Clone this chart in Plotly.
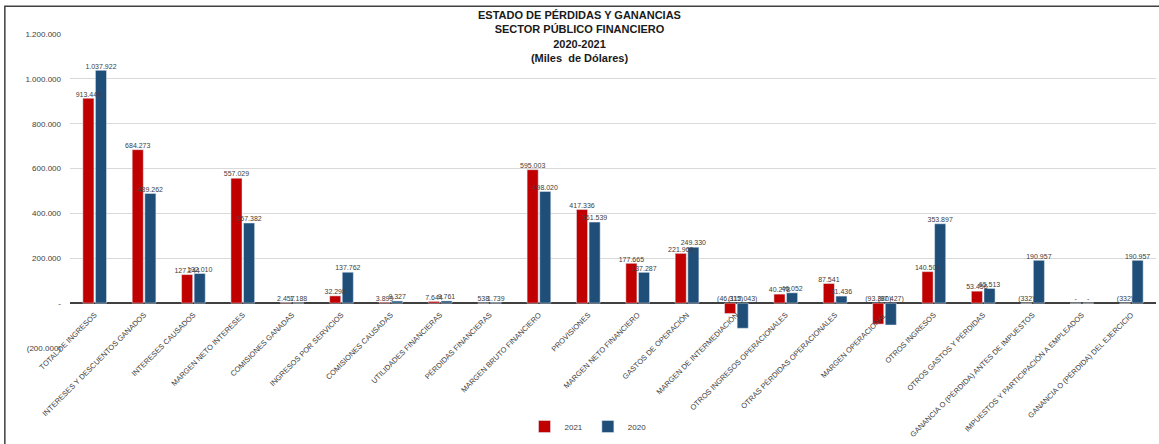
import plotly.graph_objects as go

RED = "#C00000"
BLUE = "#1F4E79"

categorias = [
    "TOTAL DE INGRESOS",
    "INTERESES Y DESCUENTOS GANADOS",
    "INTERESES CAUSADOS",
    "MARGEN NETO INTERESES",
    "COMISIONES GANADAS",
    "INGRESOS POR SERVICIOS",
    "COMISIONES CAUSADAS",
    "UTILIDADES FINANCIERAS",
    "PÉRDIDAS FINANCIERAS",
    "MARGEN BRUTO FINANCIERO",
    "PROVISIONES",
    "MARGEN NETO FINANCIERO",
    "GASTOS DE OPERACIÓN",
    "MARGEN DE INTERMEDIACIÓN",
    "OTROS INGRESOS OPERACIONALES",
    "OTRAS PÉRDIDAS OPERACIONALES",
    "MARGEN OPERACIONAL",
    "OTROS INGRESOS",
    "OTROS GASTOS Y PÉRDIDAS",
    "GANANCIA O (PÉRDIDA) ANTES DE IMPUESTOS",
    "IMPUESTOS Y PARTICIPACIÓN A EMPLEADOS",
    "GANANCIA O (PÉRDIDA) DEL EJERCICIO",
]

valores_2021 = [
    913445, 684273, 127244, 557029, 2457, 32298, 3899, 7644, 538, 595003, 417336,
    177665, 221960, -46315, 40278, 87541, -93380, 140501, 53456, -332, 0, -332,
]
valores_2020 = [
    1037922, 489262, 132010, 357382, 1188, 137762, 9327, 9761, 1739, 498020, 361539,
    137287, 249330, -112043, 46052, 31436, -97427, 353897, 65513, 190957, 0, 190957,
]

y_ticks = [-200000, 0, 200000, 400000, 600000, 800000, 1000000, 1200000]
y_ticktext = ["(200.000)", "-", "200.000", "400.000", "600.000", "800.000", "1.000.000", "1.200.000"]
y_min, y_max = -200000, 1200000


def fmt(v):
    if v == 0:
        return "-"
    s = f"{abs(v):,}".replace(",", ".")
    return f"({s})" if v < 0 else s


fig = go.Figure()
for name, vals, color in [("2021", valores_2021, RED), ("2020", valores_2020, BLUE)]:
    fig.add_trace(go.Bar(x=categorias, y=vals, name=name, marker_color=color))
# etiquetas de datos, siempre por encima de la línea de cero como en el original
for vals in [valores_2021, valores_2020]:
    fig.add_trace(go.Scatter(
        x=categorias, y=[max(v, 0) for v in vals], mode="text",
        text=[fmt(v) for v in vals], textposition="top center",
        textfont=dict(size=7, color="#404040"), showlegend=False,
        hoverinfo="skip", cliponaxis=False,
    ))

fig.update_layout(
    width=1159,
    height=444,
    margin=dict(l=70, r=3, t=34, b=92),
    paper_bgcolor="white",
    plot_bgcolor="white",
    font=dict(family="Liberation Sans, Arial", color="#404040"),
    title=dict(
        text="<b>ESTADO DE PÉRDIDAS Y GANANCIAS<br>SECTOR PÚBLICO FINANCIERO<br>2020-2021<br>(Miles  de Dólares)</b>",
        x=0.5, xanchor="center", y=0.957, yanchor="top",
        font=dict(size=11, color="#1a1a1a"),
    ),
    barmode="group",
    bargap=0.49,
    bargroupgap=0.12,
    scattermode="group",
    scattergap=0.49,
    legend=dict(
        orientation="h", x=0.477, xanchor="center", y=-0.25, yanchor="middle",
        font=dict(size=8), itemwidth=30,
    ),
    shapes=[dict(
        type="rect", xref="paper", yref="paper",
        x0=-0.06, x1=1.05, y0=-0.6, y1=1.088,
        line=dict(color="#404040", width=1.5),
    )],
)
fig.update_xaxes(
    anchor="free",
    position=(0 - y_min) / (y_max - y_min),
    tickangle=-45,
    tickfont=dict(size=7.5, color="#404040"),
    ticklabelstandoff=5,
    showgrid=False,
    showline=False,
    ticks="",
    automargin=False,
)
fig.update_yaxes(
    range=[y_min, y_max],
    tickvals=y_ticks,
    ticktext=y_ticktext,
    tickfont=dict(size=8, color="#404040"),
    showgrid=True,
    gridcolor="#D9D9D9",
    zeroline=True,
    zerolinecolor="#404040",
    zerolinewidth=1.5,
    ticklabelstandoff=8,
    automargin=False,
)

fig.write_html(
    "out.html",
    config={"displayModeBar": False},
    post_script="document.body.style.margin='0';",
)
